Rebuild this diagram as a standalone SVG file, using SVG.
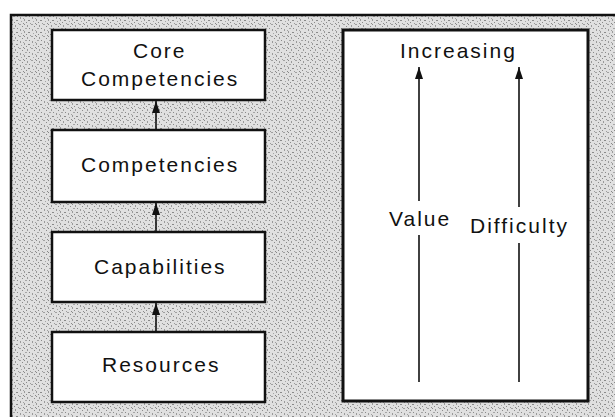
<svg xmlns="http://www.w3.org/2000/svg" width="615" height="417" viewBox="0 0 615 417">
  <style>
    .box { fill: #ffffff; stroke: #111111; stroke-width: 2.5; }
    .lbl { font-family: "Liberation Sans", Arial, sans-serif; font-size: 21px; letter-spacing: 2px; fill: #111111; }
    .conn { stroke: #111111; stroke-width: 1.6; fill: none; }
  </style>
  <defs>
    <pattern id="stipple" width="12" height="12" patternUnits="userSpaceOnUse">
      <rect width="12" height="12" fill="#e0e0e0"/>
      <rect x="0" y="0" width="1" height="1" fill="#8a8a8a"/>
      <rect x="3" y="1" width="1" height="2" fill="#9a9a9a"/>
      <rect x="7" y="0" width="2" height="1" fill="#a0a0a0"/>
      <rect x="10" y="2" width="1" height="1" fill="#8a8a8a"/>
      <rect x="1" y="4" width="2" height="1" fill="#a5a5a5"/>
      <rect x="5" y="4" width="1" height="1" fill="#8a8a8a"/>
      <rect x="8" y="5" width="1" height="2" fill="#9a9a9a"/>
      <rect x="11" y="6" width="1" height="1" fill="#a0a0a0"/>
      <rect x="0" y="7" width="1" height="2" fill="#9a9a9a"/>
      <rect x="4" y="8" width="2" height="1" fill="#8a8a8a"/>
      <rect x="9" y="9" width="1" height="1" fill="#a5a5a5"/>
      <rect x="2" y="10" width="1" height="1" fill="#8a8a8a"/>
      <rect x="6" y="11" width="1" height="1" fill="#9a9a9a"/>
      <rect x="11" y="11" width="1" height="1" fill="#8a8a8a"/>
    </pattern>
    <marker id="arrow" viewBox="0 0 12 8" refX="12" refY="4" markerWidth="12" markerHeight="8" orient="auto" markerUnits="userSpaceOnUse">
      <path d="M0,0 L12,4 L0,8 Z" fill="#111111"/>
    </marker>
  </defs>

  <rect width="615" height="417" fill="#ffffff"/>
  <g id="frame">
    <rect x="11" y="15" width="620" height="420" fill="url(#stipple)" stroke="#111111" stroke-width="2.5"/>
  </g>

  <g id="connectors">
    <line class="conn" x1="156" y1="130" x2="156" y2="101" marker-end="url(#arrow)"/>
    <line class="conn" x1="156" y1="232" x2="156" y2="203" marker-end="url(#arrow)"/>
    <line class="conn" x1="156" y1="332" x2="156" y2="303" marker-end="url(#arrow)"/>
  </g>

  <g id="node-core">
    <rect class="box" x="52" y="30" width="213" height="70"/>
    <text class="lbl" x="133" y="58">Core</text>
    <text class="lbl" x="81" y="86">Competencies</text>
  </g>
  <g id="node-competencies">
    <rect class="box" x="52" y="130" width="213" height="72"/>
    <text class="lbl" x="81" y="172">Competencies</text>
  </g>
  <g id="node-capabilities">
    <rect class="box" x="52" y="232" width="213" height="70"/>
    <text class="lbl" x="94" y="274">Capabilities</text>
  </g>
  <g id="node-resources">
    <rect class="box" x="52" y="332" width="213" height="70"/>
    <text class="lbl" x="102" y="372">Resources</text>
  </g>

  <g id="panel">
    <rect x="343" y="30" width="245" height="371" fill="#ffffff" stroke="#111111" stroke-width="3"/>
    <text class="lbl" x="400" y="58">Increasing</text>
    <line class="conn" x1="419" y1="201" x2="419" y2="67" marker-end="url(#arrow)"/>
    <line class="conn" x1="419" y1="235" x2="419" y2="382"/>
    <text class="lbl" x="389" y="226">Value</text>
    <line class="conn" x1="519" y1="207" x2="519" y2="67" marker-end="url(#arrow)"/>
    <line class="conn" x1="519" y1="243" x2="519" y2="382"/>
    <text class="lbl" x="470" y="233">Difficulty</text>
  </g>
</svg>
